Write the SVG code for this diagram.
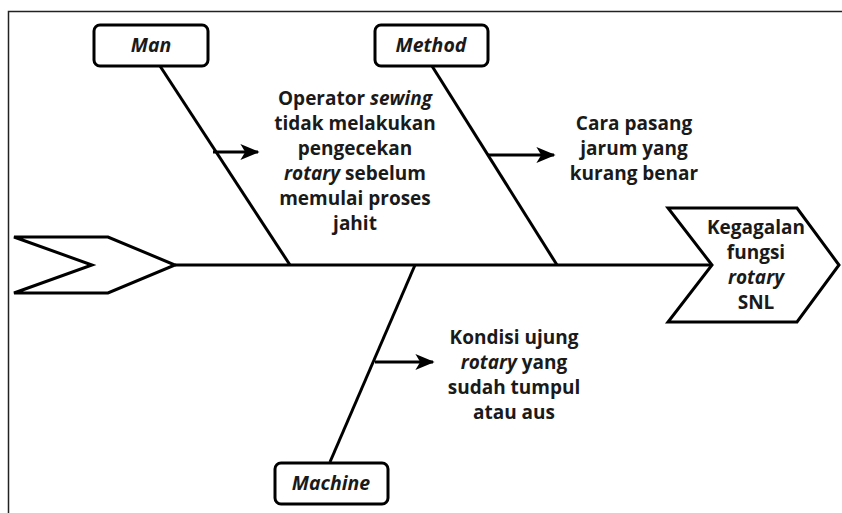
<svg xmlns="http://www.w3.org/2000/svg" width="842" height="513" viewBox="0 0 842 513">
<defs>
<style>
.ln{stroke:#000;stroke-width:3;fill:none}
.sh{stroke:#000;stroke-width:3;fill:#fff;stroke-linejoin:miter}
.box{stroke:#000;stroke-width:3;fill:#fff}
.t{font-family:"Open Sans","Liberation Sans",sans-serif;font-size:19px;font-weight:700;fill:#1a1a1a;text-anchor:middle}
.lab{font-family:"Open Sans","Liberation Sans",sans-serif;font-size:19.5px;font-weight:700;font-style:italic;fill:#1a1a1a;text-anchor:middle}
.i{font-style:italic}
</style>
<marker id="arr" viewBox="0 0 12 10" refX="11" refY="5" markerWidth="20" markerHeight="16" orient="auto" markerUnits="userSpaceOnUse">
<path d="M0,0 L12,5 L0,10 L3,5 Z" fill="#000"/>
</marker>
</defs>
<rect width="842" height="513" fill="#fff"/>
<path d="M8.5,513 V11.5 H842" stroke="#222" stroke-width="1.5" fill="none"/>

<g id="tail">
<polygon class="sh" points="14,237 108,237 175,265 108,293 14,293 92,265"/>
</g>
<g id="head">
<polygon class="sh" points="668,208 797,208 839,265 797,322 668,322 712,265"/>
<text class="t" x="756" y="234">Kegagalan</text>
<text class="t" x="756" y="259">fungsi</text>
<text class="t i" x="756" y="284">rotary</text>
<text class="t" x="756" y="309">SNL</text>
</g>

<g id="connectors">
<line class="ln" x1="175" y1="265" x2="712" y2="265"/>
<line class="ln" x1="160" y1="66" x2="290" y2="265"/>
<line class="ln" x1="432" y1="66" x2="557" y2="265"/>
<line class="ln" x1="415" y1="265" x2="330" y2="462"/>
<line class="ln" x1="213" y1="152" x2="258" y2="152" marker-end="url(#arr)"/>
<line class="ln" x1="488" y1="155" x2="554" y2="155" marker-end="url(#arr)"/>
<line class="ln" x1="375" y1="362" x2="433" y2="362" marker-end="url(#arr)"/>
</g>

<g id="man">
<rect class="box" x="94" y="25" width="114" height="41" rx="6"/>
<text class="lab" x="151" y="52">Man</text>
</g>
<g id="method">
<rect class="box" x="375" y="25" width="113" height="41" rx="6"/>
<text class="lab" x="431" y="52">Method</text>
</g>
<g id="machine">
<rect class="box" x="275" y="463" width="113" height="41" rx="6"/>
<text class="lab" x="331" y="490">Machine</text>
</g>

<g id="cause-man">
<text class="t" x="355" y="105"><tspan>Operator </tspan><tspan class="i">sewing</tspan></text>
<text class="t" x="355" y="130">tidak melakukan</text>
<text class="t" x="355" y="155">pengecekan</text>
<text class="t" x="355" y="180"><tspan class="i">rotary</tspan><tspan> sebelum</tspan></text>
<text class="t" x="355" y="205">memulai proses</text>
<text class="t" x="355" y="230">jahit</text>
</g>
<g id="cause-method">
<text class="t" x="634" y="130">Cara pasang</text>
<text class="t" x="634" y="155">jarum yang</text>
<text class="t" x="634" y="180">kurang benar</text>
</g>
<g id="cause-machine">
<text class="t" x="514" y="344">Kondisi ujung</text>
<text class="t" x="514" y="369"><tspan class="i">rotary</tspan><tspan> yang</tspan></text>
<text class="t" x="514" y="394">sudah tumpul</text>
<text class="t" x="514" y="419">atau aus</text>
</g>
</svg>
